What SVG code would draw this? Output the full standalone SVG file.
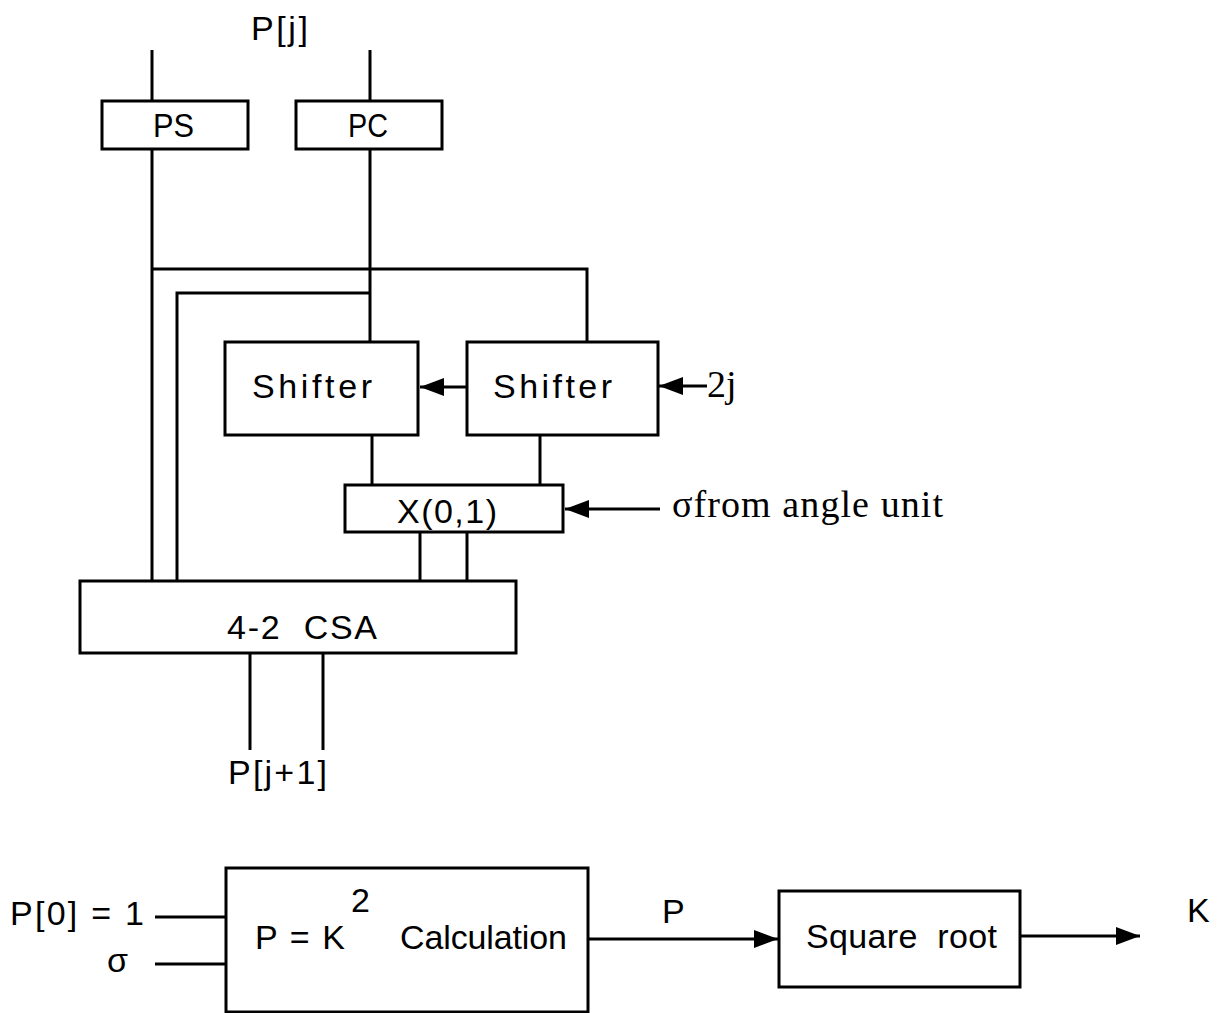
<svg xmlns="http://www.w3.org/2000/svg" width="1220" height="1013" viewBox="0 0 1220 1013">
<style>
.box{fill:#fff;stroke:#000;stroke-width:3}
.ln{fill:none;stroke:#000;stroke-width:3}
.t{font-family:"Liberation Sans",Arial,sans-serif;font-size:34px;fill:#000}
.tm{font-family:"Liberation Serif","Times New Roman",serif;font-size:38px;fill:#000}
</style>
<defs>
<marker id="ahb" markerWidth="24" markerHeight="18" refX="24" refY="9" orient="auto" markerUnits="userSpaceOnUse" viewBox="0 0 24 18">
<path d="M0,0 L24,9 L0,18 Z" fill="#000"/>
</marker>
</defs>
<rect width="1220" height="1013" fill="#fff"/>
<g id="connectors">
<path class="ln" d="M152,50 V101"/>
<path class="ln" d="M370,50 V101"/>
<path class="ln" d="M152,149 V581"/>
<path class="ln" d="M370,149 V342"/>
<path class="ln" d="M152,269 H587 V342"/>
<path class="ln" d="M370,293 H177 V581"/>
<path class="ln" d="M467,387 H420" marker-end="url(#ahb)"/>
<path class="ln" d="M707,386 H659" marker-end="url(#ahb)"/>
<path class="ln" d="M372,435 V485"/>
<path class="ln" d="M540,435 V485"/>
<path class="ln" d="M660,509 H565" marker-end="url(#ahb)"/>
<path class="ln" d="M420,532 V581"/>
<path class="ln" d="M467,532 V581"/>
<path class="ln" d="M250,653 V750"/>
<path class="ln" d="M323,653 V750"/>
<path class="ln" d="M155,917 H226"/>
<path class="ln" d="M155,964 H226"/>
<path class="ln" d="M588,939 H778" marker-end="url(#ahb)"/>
<path class="ln" d="M1020,936 H1140" marker-end="url(#ahb)"/>
</g>
<text class="t" x="251" y="40" textLength="57" lengthAdjust="spacing">P[j]</text>
<g id="ps"><rect class="box" x="102" y="101" width="146" height="48"/><text class="t" x="153" y="137" textLength="41" lengthAdjust="spacingAndGlyphs">PS</text></g>
<g id="pc"><rect class="box" x="296" y="101" width="146" height="48"/><text class="t" x="348" y="137" textLength="40" lengthAdjust="spacingAndGlyphs">PC</text></g>
<g id="shifter1"><rect class="box" x="225" y="342" width="193" height="93"/><text class="t" x="252" y="398" textLength="120" lengthAdjust="spacing">Shifter</text></g>
<g id="shifter2"><rect class="box" x="467" y="342" width="191" height="93"/><text class="t" x="493" y="398" textLength="119" lengthAdjust="spacing">Shifter</text></g>
<text class="tm" x="707" y="397">2j</text>
<g id="x01"><rect class="box" x="345" y="485" width="218" height="47"/><text class="t" x="397" y="523" textLength="100" lengthAdjust="spacing">X(0,1)</text></g>
<text class="tm" x="672" y="517" textLength="271" lengthAdjust="spacing">σfrom angle unit</text>
<g id="csa"><rect class="box" x="80" y="581" width="436" height="72"/><text class="t" x="227" y="639" textLength="150" lengthAdjust="spacing" xml:space="preserve">4-2  CSA</text></g>
<text class="t" x="228" y="784" textLength="99" lengthAdjust="spacing">P[j+1]</text>
<text class="t" x="10" y="925" textLength="134" lengthAdjust="spacing" xml:space="preserve">P[0] = 1</text>
<text class="t" x="107" y="972">σ</text>
<g id="calc"><rect class="box" x="226" y="868" width="362" height="144"/><text class="t" x="255" y="949" textLength="90" lengthAdjust="spacing" xml:space="preserve">P = K</text><text class="t" x="351" y="912" font-size="24">2</text><text class="t" x="400" y="949" textLength="167" lengthAdjust="spacing">Calculation</text></g>
<text class="t" x="662" y="923">P</text>
<g id="sqrt"><rect class="box" x="779" y="891" width="241" height="96"/><text class="t" x="806" y="948" textLength="191" lengthAdjust="spacing" xml:space="preserve">Square  root</text></g>
<text class="t" x="1187" y="922">K</text>
</svg>
